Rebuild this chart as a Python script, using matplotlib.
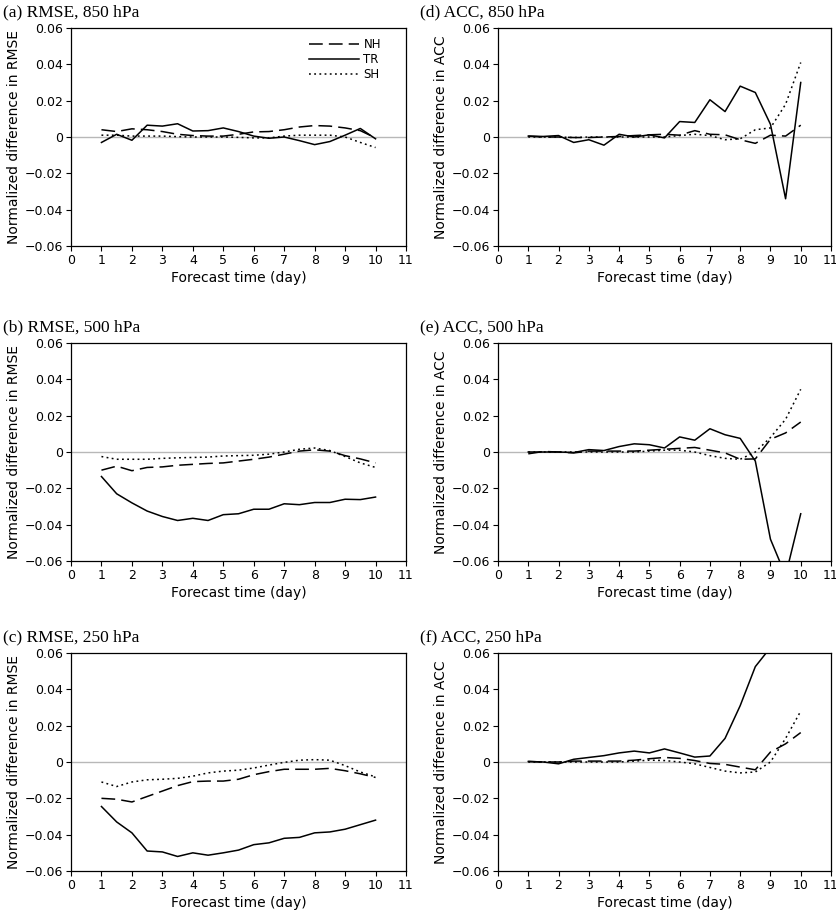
import numpy as np
import matplotlib.pyplot as plt

days = np.arange(1, 10.01, 0.5)

# (a) RMSE, 850 hPa
rmse850_nh = [0.004, 0.003, 0.0045, 0.004, 0.003, 0.0015, 0.0008, 0.0005, 0.0005, 0.0015,
              0.0028, 0.003, 0.004, 0.0055, 0.0063, 0.006, 0.005, 0.0035, -0.0005]
rmse850_tr = [-0.003, 0.0015, -0.0018, 0.0065, 0.006, 0.0073, 0.0033, 0.0035, 0.005, 0.003,
              0.0005, -0.0007, 0.0, -0.002, -0.0042, -0.0025, 0.001, 0.0047, -0.001]
rmse850_sh = [0.001, 0.001, 0.0005, 0.0005, 0.0005, 0.0002, 0.0, 0.0, 0.0, -0.0002,
              -0.0005, -0.0005, 0.0005, 0.001, 0.001, 0.001, 0.0, -0.003, -0.0058]

# (b) RMSE, 500 hPa
rmse500_nh = [-0.010, -0.0078, -0.0103, -0.0085, -0.0082, -0.0073, -0.0068, -0.0063, -0.006, -0.005,
              -0.004, -0.0028, -0.0012, 0.0005, 0.0012, 0.0005, -0.002, -0.0038, -0.006]
rmse500_tr = [-0.0135, -0.023, -0.028, -0.0325, -0.0355, -0.0377, -0.0365, -0.0377, -0.0345, -0.034,
              -0.0315, -0.0315, -0.0285, -0.029, -0.0278, -0.0278, -0.026, -0.0262, -0.0248]
rmse500_sh = [-0.0025, -0.004, -0.004, -0.004, -0.0035, -0.0032, -0.003, -0.0028, -0.0022, -0.002,
              -0.0018, -0.0012, 0.0, 0.0015, 0.0022, 0.0008, -0.0025, -0.006, -0.0085]

# (c) RMSE, 250 hPa
rmse250_nh = [-0.020, -0.0205, -0.022, -0.019, -0.016, -0.013, -0.0108, -0.0105, -0.0105, -0.0095,
              -0.007, -0.0053, -0.004, -0.004, -0.004, -0.0035, -0.0048, -0.0065, -0.0085]
rmse250_tr = [-0.0245, -0.033, -0.039, -0.049, -0.0495, -0.052, -0.050, -0.0513, -0.050, -0.0485,
              -0.0455, -0.0445, -0.042, -0.0415, -0.039, -0.0385, -0.037, -0.0345, -0.032]
rmse250_sh = [-0.011, -0.0135, -0.011, -0.0098, -0.0095, -0.009, -0.0078, -0.006, -0.005, -0.0045,
              -0.0033, -0.0017, -0.0002, 0.001, 0.0013, 0.001, -0.002, -0.0055, -0.0082]

# (d) ACC, 850 hPa
acc850_nh = [0.0005, 0.0, 0.0, -0.0003, -0.0003, 0.0, 0.0003, 0.0008, 0.0012, 0.0015,
             0.001, 0.0035, 0.0015, 0.0012, -0.0015, -0.0035, 0.001, 0.0005, 0.0065]
acc850_tr = [0.0005, 0.0003, 0.0008, -0.003, -0.0015, -0.0045, 0.0015, 0.0, 0.0012, -0.0005,
             0.0085, 0.008, 0.0205, 0.014, 0.028, 0.0245, 0.007, -0.034, 0.030]
acc850_sh = [0.0, 0.0, 0.0, -0.0003, 0.0, 0.0, 0.0, 0.0, 0.0, 0.0,
             0.0008, 0.0015, 0.0008, -0.0015, -0.001, 0.004, 0.005, 0.018, 0.041]

# (e) ACC, 500 hPa
acc500_nh = [-0.001, 0.0003, 0.0, -0.0005, 0.0005, 0.0005, 0.0005, 0.0005, 0.001, 0.0015,
             0.002, 0.0025, 0.001, -0.0005, -0.004, -0.0038, 0.007, 0.0105, 0.0165]
acc500_tr = [0.0, 0.0, 0.0, -0.0003, 0.0013, 0.0008, 0.003, 0.0045, 0.004, 0.0022,
             0.0083, 0.0065, 0.0128, 0.0095, 0.0075, -0.005, -0.048, -0.068, -0.034]
acc500_sh = [0.0, 0.0, 0.0, 0.0, 0.0, 0.0, 0.0, 0.0, 0.0005, 0.001,
             0.001, 0.0, -0.002, -0.0035, -0.004, 0.0, 0.008, 0.018, 0.0345]

# (f) ACC, 250 hPa
acc250_nh = [0.0003, 0.0, 0.0, 0.0005, 0.0005, 0.0005, 0.0005, 0.001, 0.0018, 0.0025,
             0.002, 0.0008, -0.0008, -0.0013, -0.0028, -0.0043, 0.0055, 0.010, 0.0162]
acc250_tr = [0.0003, 0.0, -0.001, 0.0015, 0.0025, 0.0035, 0.005, 0.006, 0.005, 0.0072,
             0.005, 0.0027, 0.0033, 0.013, 0.031, 0.0525, 0.063, 0.072, 0.078]
acc250_sh = [0.0, 0.0, 0.0, 0.0, 0.0, 0.0, 0.0, 0.0005, 0.001, 0.0008,
             0.0, -0.001, -0.003, -0.005, -0.006, -0.0055, 0.0, 0.013, 0.028]

panels = [
    ('(a) RMSE, 850 hPa', 'RMSE', rmse850_nh, rmse850_tr, rmse850_sh),
    ('(d) ACC, 850 hPa', 'ACC', acc850_nh, acc850_tr, acc850_sh),
    ('(b) RMSE, 500 hPa', 'RMSE', rmse500_nh, rmse500_tr, rmse500_sh),
    ('(e) ACC, 500 hPa', 'ACC', acc500_nh, acc500_tr, acc500_sh),
    ('(c) RMSE, 250 hPa', 'RMSE', rmse250_nh, rmse250_tr, rmse250_sh),
    ('(f) ACC, 250 hPa', 'ACC', acc250_nh, acc250_tr, acc250_sh),
]

plt.rcParams['font.family'] = 'DejaVu Sans'
plt.rcParams['axes.unicode_minus'] = True

fig = plt.figure(figsize=(8.36, 9.17), dpi=100)

W, H = 836, 917
lefts = [71, 498]
widths = [335, 333]
tops = [28, 343, 653]
height = 218
title_x = [3, 420]

for i, (title, metric, nh, tr, sh) in enumerate(panels):
    row, col = i // 2, i % 2
    ax = fig.add_axes([lefts[col] / W, (H - tops[row] - height) / H,
                       widths[col] / W, height / H])
    ax.axhline(0, color='#b8b8b8', lw=1.0, zorder=1)
    ax.plot(days, nh, color='black', lw=1.1, dashes=(9, 4), label='NH')
    ax.plot(days, tr, color='black', lw=1.1, label='TR')
    ax.plot(days, sh, color='black', lw=1.1, dashes=(1.2, 2.2), label='SH')
    ax.set_xlim(0, 11)
    ax.set_ylim(-0.06, 0.06)
    ax.set_xticks(range(0, 12))
    ax.set_yticks([-0.06, -0.04, -0.02, 0, 0.02, 0.04, 0.06])
    ax.set_yticklabels(['\u22120.06', '\u22120.04', '\u22120.02', '0', '0.02', '0.04', '0.06'])
    ax.tick_params(direction='out', length=3.5, width=0.8, labelsize=9, pad=2)
    for s in ax.spines.values():
        s.set_linewidth(0.9)
    ax.set_xlabel('Forecast time (day)', fontsize=10, labelpad=3)
    ax.set_ylabel('Normalized difference in ' + metric, fontsize=10, labelpad=3)
    fig.text(title_x[col] / W, 1 - (tops[row] - 16) / H, title,
             family='Liberation Serif', fontsize=12.5, va='center', ha='left')
    if i == 0:
        ax.legend(loc='upper right', bbox_to_anchor=(0.95, 0.99), frameon=False,
                  fontsize=8.5, handlelength=4.2, handletextpad=0.4,
                  labelspacing=0.15, borderaxespad=0.3)

fig.savefig('out.png', dpi=100)
